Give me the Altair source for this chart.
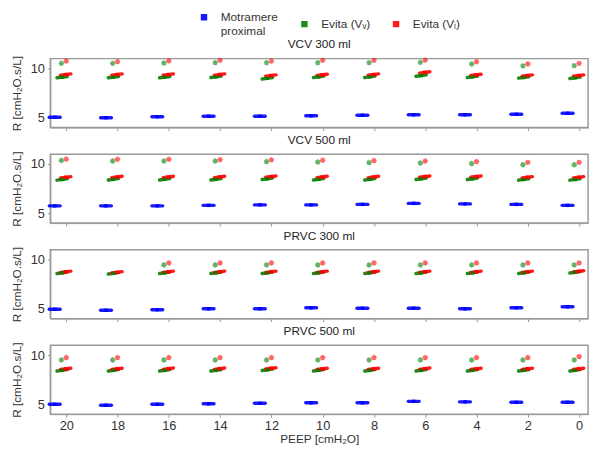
import altair as alt
import pandas as pd

# ---------------- data ----------------
peep = [20, 18, 16, 14, 12, 10, 8, 6, 4, 2, 0]
panels = ["VCV 300 ml", "VCV 500 ml", "PRVC 300 ml", "PRVC 500 ml"]
series = ["Motramere proximal", "Evita (Vᵥ)", "Evita (Vᵢ)"]
colors = ["#0000ff", "#008000", "#ff0000"]

# Motramere proximal (blue clusters)
mot_vcv300 = [5.05, 5.0, 5.1, 5.15, 5.15, 5.2, 5.25, 5.3, 5.3, 5.35, 5.45]
mot_vcv500 = [5.75, 5.75, 5.75, 5.8, 5.85, 5.85, 5.9, 6.0, 5.95, 5.9, 5.8]
mot_prvc300 = [4.95, 4.85, 4.9, 5.0, 5.0, 5.1, 5.05, 5.05, 5.0, 5.1, 5.2]
mot_prvc500 = [5.0, 4.9, 5.0, 5.05, 5.1, 5.15, 5.15, 5.3, 5.25, 5.2, 5.2]

# Evita (V_V) green clusters
evv_vcv300 = [9.12, 9.12, 9.12, 9.15, 9.0, 9.15, 9.15, 9.28, 9.15, 9.09, 9.05]
evv_vcv500 = [8.43, 8.45, 8.45, 8.45, 8.5, 8.45, 8.45, 8.5, 8.5, 8.43, 8.43]
evv_prvc300 = [8.65, 8.6, 8.65, 8.65, 8.65, 8.65, 8.65, 8.65, 8.65, 8.65, 8.7]
evv_prvc500 = [8.45, 8.45, 8.45, 8.45, 8.5, 8.45, 8.45, 8.45, 8.45, 8.45, 8.45]

# Evita (V_I) red clusters
evi_vcv300 = [9.38, 9.38, 9.38, 9.38, 9.28, 9.35, 9.38, 9.6, 9.35, 9.28, 9.28]
evi_vcv500 = [8.65, 8.68, 8.68, 8.68, 8.72, 8.68, 8.68, 8.72, 8.72, 8.65, 8.65]
evi_prvc300 = [8.75, 8.7, 8.75, 8.75, 8.75, 8.75, 8.75, 8.75, 8.75, 8.75, 8.8]
evi_prvc500 = [8.6, 8.6, 8.62, 8.62, 8.65, 8.6, 8.6, 8.62, 8.6, 8.6, 8.6]

# star markers (V_V green, V_I red); None = no marker
sv_vcv300 = [10.52, 10.52, 10.55, 10.59, 10.59, 10.59, 10.59, 10.62, 10.46, 10.26, 10.29]
si_vcv300 = [10.75, 10.7, 10.78, 10.82, 10.75, 10.82, 10.82, 10.85, 10.69, 10.46, 10.52]
sv_vcv500 = [10.36, 10.3, 10.3, 10.3, 10.25, 10.2, 10.15, 10.1, 10.05, 9.93, 9.93]
si_vcv500 = [10.5, 10.48, 10.48, 10.45, 10.42, 10.38, 10.35, 10.3, 10.25, 10.17, 10.17]
sv_prvc300 = [None, None, 9.45, 9.45, 9.45, 9.45, 9.45, 9.45, 9.45, 9.45, 9.45]
si_prvc300 = [None, None, 9.65, 9.65, 9.65, 9.65, 9.65, 9.65, 9.65, 9.65, 9.65]
sv_prvc500 = [9.5, 9.5, 9.5, 9.5, 9.5, 9.5, 9.5, 9.5, 9.5, 9.5, 9.5]
si_prvc500 = [9.75, 9.75, 9.75, 9.75, 9.75, 9.75, 9.75, 9.75, 9.75, 9.75, 9.85]

clusters = {
    panels[0]: [mot_vcv300, evv_vcv300, evi_vcv300],
    panels[1]: [mot_vcv500, evv_vcv500, evi_vcv500],
    panels[2]: [mot_prvc300, evv_prvc300, evi_prvc300],
    panels[3]: [mot_prvc500, evv_prvc500, evi_prvc500],
}
stars = {
    panels[0]: [sv_vcv300, si_vcv300],
    panels[1]: [sv_vcv500, si_vcv500],
    panels[2]: [sv_prvc300, si_prvc300],
    panels[3]: [sv_prvc500, si_prvc500],
}

# horizontal offset of each series relative to the PEEP tick (data units)
offsets = {series[0]: 0.45, series[1]: 0.16, series[2]: 0.02}
star_offsets = {series[1]: 0.19, series[2]: 0.0}
half_w = {series[0]: 0.21, series[1]: 0.2, series[2]: 0.2}
slant = {series[0]: 0.0, series[1]: 0.07, series[2]: 0.07}

rows = []
for p in panels:
    for s, vals in zip(series, clusters[p]):
        for x, v in zip(peep, vals):
            rows.append(dict(panel=p, series=s, peep=x, R=v,
                             xs=x + offsets[s] + half_w[s], xe=x + offsets[s] - half_w[s],
                             ys=v - slant[s], ye=v + slant[s], xc=x + offsets[s]))
cdf = pd.DataFrame(rows)

srows = []
for p in panels:
    for s, vals in zip(series[1:], stars[p]):
        for x, v in zip(peep, vals):
            if v is not None:
                srows.append(dict(panel=p, series=s, peep=x, R=v, xc=x + star_offsets[s]))
sdf = pd.DataFrame(srows)

color_scale = alt.Scale(domain=series, range=colors)
x_scale = alt.Scale(domain=[20.62, -0.35], nice=False, zero=False)
y_scale = alt.Scale(domain=[4.0, 11.0], nice=False, zero=False)

asterisk = "M-1,0L1,0M0,-1L0,1M-0.7,-0.7L0.7,0.7M-0.7,0.7L0.7,-0.7"

legend = alt.Legend(
    title=None, orient="none", direction="horizontal",
    legendX=150, legendY=-48, symbolType="square", symbolSize=25,
    labelFontSize=12, labelColor="#333", columnPadding=20, labelOffset=11,
    padding=0,
    labelExpr="datum.label == 'Motramere proximal' ? ['Motramere', '\u00a0\u00a0proximal'] : datum.label",
)
color = alt.Color("series:N", scale=color_scale, legend=legend)


def panel_chart(name, last):
    xaxis = alt.Axis(values=peep, title="PEEP [cmH₂O]" if last else None,
                     labels=last, tickSize=3, grid=False, titlePadding=1)
    yaxis = alt.Axis(values=[5, 10], title="R [cmH₂O.s/L]", tickSize=3, grid=False,
                     titlePadding=7)
    cd = cdf[cdf.panel == name]
    sd = sdf[sdf.panel == name]
    rules = alt.Chart(cd).mark_rule(strokeWidth=3.5, strokeCap="round", opacity=0.9).encode(
        x=alt.X("xs:Q", scale=x_scale, axis=xaxis),
        x2="xe:Q",
        y=alt.Y("ys:Q", scale=y_scale, axis=yaxis),
        y2="ye:Q",
        color=color,
    )
    centers = alt.Chart(cd).mark_square(size=12, opacity=0.9).encode(
        x=alt.X("xc:Q", scale=x_scale, axis=xaxis),
        y=alt.Y("R:Q", scale=y_scale, axis=yaxis),
        color=color,
    )
    st = alt.Chart(sd).mark_point(shape=asterisk, size=30, strokeWidth=1.4, opacity=0.6, filled=False).encode(
        x=alt.X("xc:Q", scale=x_scale, axis=xaxis),
        y=alt.Y("R:Q", scale=y_scale, axis=yaxis),
        color=color,
    )
    return alt.layer(rules, centers, st).properties(
        width=546, height=70,
        title=alt.TitleParams(name, fontSize=12, fontWeight="normal", color="#222", offset=4),
    )


chart = alt.vconcat(
    *[panel_chart(p, i == len(panels) - 1) for i, p in enumerate(panels)],
    spacing=0,
).configure_view(stroke="#999", strokeWidth=1.5).configure_axis(
    domainColor="#999", tickColor="#999", labelColor="#333", titleColor="#333",
    labelFont="Liberation Sans", titleFont="Liberation Sans",
    labelFontSize=13, titleFontSize=12, titleFontWeight="normal", labelPadding=3,
).configure_legend(labelFont="Liberation Sans").configure_title(
    font="Liberation Sans"
).properties(padding={"left": 1, "top": 0, "right": 5, "bottom": 2})

chart.save("out.html", embed_options={"renderer": "svg", "actions": False})
